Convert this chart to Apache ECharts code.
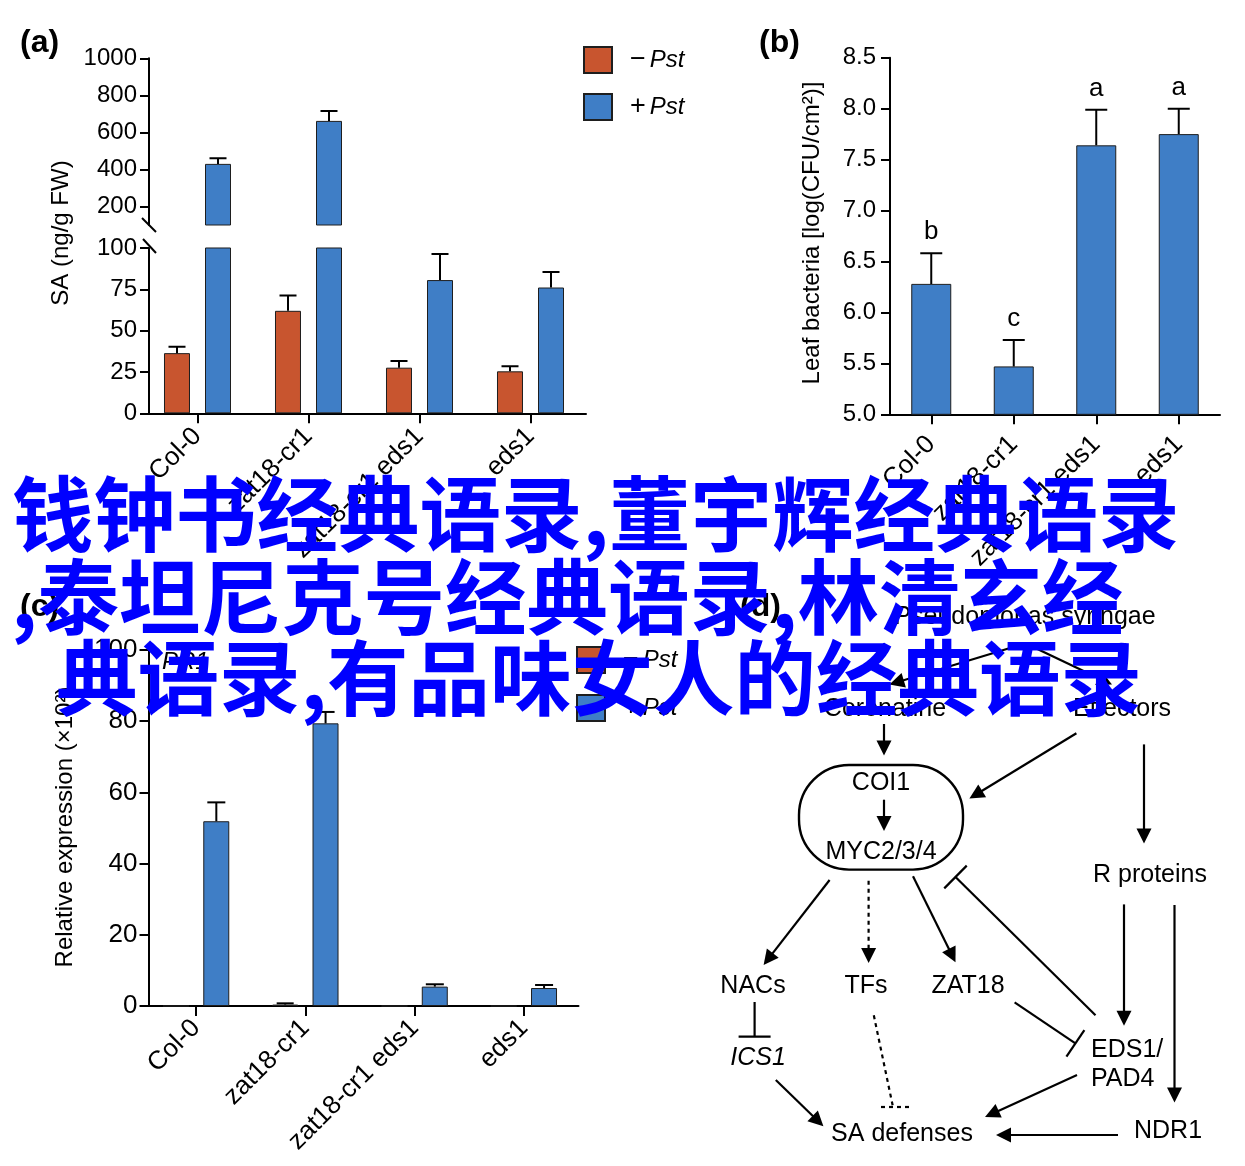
<!DOCTYPE html>
<html><head><meta charset="utf-8">
<script src="https://cdn.jsdelivr.net/npm/echarts@6/dist/echarts.min.js"></script>
<style>html,body{margin:0;padding:0;background:#fff}#c{width:1245px;height:1166px}</style>
</head><body><div id="c"></div>
<script>
const FONT = '"Liberation Sans", Arial, Helvetica, sans-serif';
const CJK = '"Noto Sans CJK SC", sans-serif';
const RED = '#C8552F', BLUE = '#3F7EC6', EDGE = '#1e1e1e';

// ---------- data ----------
const categories = ['Col-0', 'zat18-cr1', 'zat18-cr1 eds1', 'eds1'];
const saMinus = [36.4, 62.0, 27.6, 25.4];
const saMinusErr = [3.8, 9.3, 4.1, 3.1];
const saPlus = [430, 662, 80.6, 76.1];
const saPlusErr = [31, 54, 15.8, 9.4];
const saUpperTicks = [200, 400, 600, 800, 1000];
const bacteria = [6.28, 5.47, 7.64, 7.75];
const bacteriaErr = [0.30, 0.26, 0.35, 0.25];
const bacteriaLetters = ['b', 'c', 'a', 'a'];
const pr1Minus = [0, 0.4, 0, 0];
const pr1MinusErr = [0, 0.35, 0, 0];
const pr1Plus = [51.9, 79.4, 5.45, 5.05];
const pr1PlusErr = [5.3, 3.2, 0.65, 0.85];
const legendNames = ['\u2212Pst', '+Pst'];

// panel (d) diagram, in diagram units
const dNodeNames = ['Pseudomonas syringae', 'Coronatine', 'Effectors', 'COI1', 'MYC2/3/4', 'R proteins',
  'NACs', 'TFs', 'ZAT18', 'ICS1', 'EDS1/', 'PAD4', 'SA defenses', 'NDR1'];
const dNodeXY = [[325, 37], [185, 129], [422, 129], [181, 203], [181, 272], [450, 295],
  [53, 406], [166, 406], [268, 406], [58, 478], [391, 470], [391, 499], [202, 554], [468, 551]];
// x1, y1, x2, y2, kind (0 = activation arrow, 1 = inhibition bar), dashed
const dEdges = [
  [315, 66.5, 189.4, 104.6, 0, 0],
  [330, 65.4, 412, 104.6, 0, 0],
  [184, 144, 184, 175.6, 0, 0],
  [184, 219.7, 184, 251, 0, 0],
  [376.4, 153.2, 269.4, 218.6, 0, 0],
  [444, 164.4, 444, 263.5, 0, 0],
  [129.6, 300, 63.6, 385, 0, 0],
  [168.6, 300.8, 168.6, 383, 0, 1],
  [213, 296.3, 255.5, 382.3, 0, 0],
  [395.5, 435.3, 255.5, 297, 1, 0],
  [54.6, 422, 54.6, 456.6, 1, 0],
  [314.6, 422.3, 375.4, 463.4, 1, 0],
  [424, 324.4, 424, 445.8, 0, 0],
  [474.5, 325, 474.5, 522.4, 0, 0],
  [173.8, 435.3, 193, 527, 1, 1],
  [75.8, 500, 123.4, 546.3, 0, 0],
  [377, 495, 285, 537, 0, 0],
  [418, 555, 296, 555, 0, 0]
];
const dComplex = [[99, 185, 263, 289.6]];

const overlayLines = ['钱钟书经典语录,董宇辉经典语录', ',泰坦尼克号经典语录,林清玄经', '典语录,有品味女人的经典语录'];

// ---------- helpers ----------
const chart = echarts.init(document.getElementById('c'), null, {renderer: 'canvas'});

const lineStyleAxis = {color: '#000', width: 2};
function yAx(grid, extra) {
  return Object.assign({
    type: 'value', gridIndex: grid,
    axisLine: {show: true, onZero: false, lineStyle: lineStyleAxis},
    axisTick: {show: true, length: 9, lineStyle: lineStyleAxis},
    splitLine: {show: false},
    axisLabel: {color: '#000', fontFamily: FONT, fontSize: 24, margin: 12, formatter: v => String(v)}
  }, extra);
}
function xAx(grid, margin, extra) {
  return Object.assign({
    type: 'category', gridIndex: grid, data: categories, boundaryGap: true,
    axisLine: {show: true, onZero: false, lineStyle: lineStyleAxis},
    axisTick: {show: true, alignWithLabel: true, length: 10, lineStyle: lineStyleAxis},
    splitLine: {show: false},
    axisLabel: {interval: 0, rotate: 45, margin: margin, color: '#000', fontFamily: FONT, fontSize: 26}
  }, extra);
}
function bar(name, xi, yi, data, color, bw, gap) {
  return {
    type: 'bar', name, xAxisIndex: xi, yAxisIndex: yi, data, barWidth: bw, barGap: gap,
    clip: true, silent: true, z: 2,
    itemStyle: {color, borderColor: EDGE, borderWidth: 1}
  };
}
// lo / hi: value range of the axis the error bars belong to (bars outside are skipped)
function errSeries(xi, yi, vals, errs, offset, cap, letters, lo, hi) {
  lo = lo === undefined ? -Infinity : lo;
  hi = hi === undefined ? Infinity : hi;
  return {
    type: 'custom', xAxisIndex: xi, yAxisIndex: yi, clip: true, z: 4, silent: true,
    data: vals.map((v, i) => [i, v, v + errs[i], errs[i]]),
    renderItem(params, api) {
      const v = api.value(1), top = api.value(2);
      if (!(api.value(3) > 0) || top <= lo || v >= hi) return;
      const i = api.value(0);
      const p0 = api.coord([i, Math.max(v, lo)]);
      const p1 = api.coord([i, top]);
      const x = p0[0] + offset;
      const ls = {stroke: '#000', lineWidth: 2};
      const ch = [
        {type: 'line', shape: {x1: x, y1: p0[1], x2: x, y2: p1[1]}, style: ls},
        {type: 'line', shape: {x1: x - cap / 2, y1: p1[1], x2: x + cap / 2, y2: p1[1]}, style: ls}
      ];
      if (letters) ch.push({type: 'text', x: x, y: p1[1] - 21,
        style: {text: letters[i], fontFamily: FONT, fontSize: 26, fill: '#000', align: 'center', verticalAlign: 'middle'}});
      return {type: 'group', children: ch};
    }
  };
}
function txt(text, x, y, o) {
  o = o || {};
  return {
    type: 'text', x, y, rotation: o.rotation || 0, z: o.z || 50, silent: true,
    style: {text, fill: o.fill || '#000', fontFamily: o.fontFamily || FONT, fontSize: o.fontSize || 24,
      fontWeight: o.fontWeight || 'normal', fontStyle: o.fontStyle || 'normal',
      align: o.align || 'center', verticalAlign: 'middle'}
  };
}
function seg(x1, y1, x2, y2) {
  return {type: 'line', z: 50, silent: true, shape: {x1, y1, x2, y2}, style: {stroke: '#000', lineWidth: 2}};
}

const legendCommon = {
  data: legendNames, orient: 'vertical', itemWidth: 28, itemHeight: 26, icon: 'rect', selectedMode: false,
  padding: 0,
  formatter: n => '{s|' + n.charAt(0) + '}{i|' + n.slice(1) + '}',
  textStyle: {
    color: '#000', fontFamily: FONT, fontSize: 24, lineHeight: 26,
    rich: {
      s: {fontFamily: FONT, fontSize: 27, lineHeight: 26, color: '#000', padding: [0, 4, 0, 13]},
      i: {fontFamily: FONT, fontSize: 24, lineHeight: 26, fontStyle: 'italic', color: '#000'}
    }
  }
};

const upMin = 100;
const option = {
  animation: false,
  backgroundColor: '#fff',
  grid: [
    {left: 142, top: 58.3, width: 444, height: 166.7, outerBoundsMode: 'none'},
    {left: 142, top: 248, width: 444, height: 165.3, outerBoundsMode: 'none'},
    {left: 890, top: 57.7, width: 330, height: 356.6, outerBoundsMode: 'none'},
    {left: 141.5, top: 650, width: 437, height: 356, outerBoundsMode: 'none'},
    {left: 700, top: 580, width: 545, height: 586, outerBoundsMode: 'none'}
  ],
  xAxis: [
    xAx(0, 19, {show: false}),
    xAx(1, 19),
    xAx(2, 26),
    xAx(3, 18),
    {type: 'value', gridIndex: 4, min: 0, max: 545, show: false}
  ],
  yAxis: [
    yAx(0, {min: upMin, max: 1000, offset: -7,
      axisLabel: {color: '#000', fontFamily: FONT, fontSize: 24, margin: 12, customValues: saUpperTicks, formatter: v => String(v)},
      axisTick: {show: true, length: 9, lineStyle: lineStyleAxis, customValues: saUpperTicks}}),
    yAx(1, {min: 0, max: 100, interval: 25, offset: -7}),
    yAx(2, {min: 5, max: 8.5, interval: 0.5,
      axisLabel: {color: '#000', fontFamily: FONT, fontSize: 24, margin: 14, formatter: v => v.toFixed(1)}}),
    yAx(3, {min: 0, max: 100, interval: 20, offset: -7,
      axisLabel: {color: '#000', fontFamily: FONT, fontSize: 26, margin: 11, formatter: v => String(v)}}),
    {type: 'value', gridIndex: 4, min: 0, max: 586, inverse: true, show: false}
  ],
  legend: [
    Object.assign({left: 583, top: 46, itemGap: 19}, legendCommon),
    Object.assign({left: 576, top: 646, itemGap: 20}, legendCommon)
  ],
  series: [
    // (a) upper part of broken axis
    bar(legendNames[0], 0, 0, saMinus.map(v => v > upMin ? v : '-'), RED, 26, '57.7%'),
    bar(legendNames[1], 0, 0, saPlus.map(v => v > upMin ? v : '-'), BLUE, 26, '57.7%'),
    errSeries(0, 0, saPlus, saPlusErr, 20.5, 17, null, upMin, 1000),
    // (a) lower part
    bar(legendNames[0], 1, 1, saMinus, RED, 26, '57.7%'),
    bar(legendNames[1], 1, 1, saPlus, BLUE, 26, '57.7%'),
    errSeries(1, 1, saMinus, saMinusErr, -20.5, 17, null, 0, upMin),
    errSeries(1, 1, saPlus, saPlusErr, 20.5, 17, null, 0, upMin),
    // (b)
    bar('bacteria', 2, 2, bacteria, BLUE, 40, '0%'),
    errSeries(2, 2, bacteria, bacteriaErr, 0, 22, bacteriaLetters),
    // (c)
    bar(legendNames[0], 3, 3, pr1Minus, RED, 26, '55%'),
    bar(legendNames[1], 3, 3, pr1Plus, BLUE, 26, '55%'),
    errSeries(3, 3, pr1Minus, pr1MinusErr, -20.2, 17),
    errSeries(3, 3, pr1Plus, pr1PlusErr, 20.2, 18),
    // (d) complex outline
    {
      type: 'custom', xAxisIndex: 4, yAxisIndex: 4, silent: true, z: 3, data: dComplex,
      renderItem(params, api) {
        const a = api.coord([api.value(0), api.value(1)]);
        const b = api.coord([api.value(2), api.value(3)]);
        return {type: 'rect', shape: {x: a[0], y: a[1], width: b[0] - a[0], height: b[1] - a[1], r: 50},
          style: {fill: 'none', stroke: '#000', lineWidth: 2.4}};
      }
    },
    // (d) edges
    {
      type: 'custom', xAxisIndex: 4, yAxisIndex: 4, silent: true, z: 3, data: dEdges,
      renderItem(params, api) {
        const p1 = api.coord([api.value(0), api.value(1)]);
        const p2 = api.coord([api.value(2), api.value(3)]);
        const kind = api.value(4), dashed = api.value(5);
        const dx = p2[0] - p1[0], dy = p2[1] - p1[1], L = Math.hypot(dx, dy);
        const ux = dx / L, uy = dy / L;
        const st = {stroke: '#000', lineWidth: 2.2, lineDash: dashed ? [4, 4] : null};
        const ch = [];
        if (kind === 0) {
          const px = -uy, py = ux, hl = 15, hw = 7.5;
          const bx = p2[0] - ux * hl, by = p2[1] - uy * hl;
          ch.push({type: 'line', shape: {x1: p1[0], y1: p1[1], x2: bx + ux, y2: by + uy}, style: st});
          ch.push({type: 'polygon', shape: {points: [[p2[0], p2[1]], [bx + px * hw, by + py * hw], [bx - px * hw, by - py * hw]]},
            style: {fill: '#000'}});
        } else {
          // dashed inhibition bars are drawn level, solid ones perpendicular to the edge
          const px = dashed ? 1 : -uy, py = dashed ? 0 : ux, hw = 16;
          ch.push({type: 'line', shape: {x1: p1[0], y1: p1[1], x2: p2[0], y2: p2[1]}, style: st});
          ch.push({type: 'line', shape: {x1: p2[0] + px * hw, y1: p2[1] + py * hw, x2: p2[0] - px * hw, y2: p2[1] - py * hw}, style: st});
        }
        return {type: 'group', children: ch};
      }
    },
    // (d) node labels
    {
      type: 'custom', xAxisIndex: 4, yAxisIndex: 4, silent: true, z: 3,
      data: dNodeXY.map((p, i) => [p[0], p[1], i]),
      renderItem(params, api) {
        const p = api.coord([api.value(0), api.value(1)]);
        const name = dNodeNames[api.value(2)];
        const left = name === 'EDS1/' || name === 'PAD4';
        return {type: 'text', x: p[0], y: p[1],
          style: {text: name, fontFamily: FONT, fontSize: 25, fill: '#000',
            fontStyle: name === 'ICS1' ? 'italic' : 'normal',
            align: left ? 'left' : 'center', verticalAlign: 'middle'}};
      }
    }
  ],
  graphic: [
    txt('(a)', 20, 43, {fontSize: 32, fontWeight: 'bold', align: 'left'}),
    txt('(b)', 759, 43, {fontSize: 32, fontWeight: 'bold', align: 'left'}),
    txt('(c)', 20, 607, {fontSize: 32, fontWeight: 'bold', align: 'left'}),
    txt('(d)', 740, 607, {fontSize: 32, fontWeight: 'bold', align: 'left'}),
    txt('SA (ng/g FW)', 61, 233, {rotation: Math.PI / 2}),
    txt('Leaf bacteria [log(CFU/cm\u00B2)]', 812, 233, {rotation: Math.PI / 2}),
    txt('Relative expression (\u00D710\u00B2)', 65, 827, {rotation: Math.PI / 2}),
    txt('PR1', 162, 662, {fontStyle: 'italic', align: 'left'}),
    seg(142, 218, 156, 232),
    seg(143, 239, 156, 253),
    txt(overlayLines[0], 12, 514, {fontFamily: CJK, fontSize: 81.5, fontWeight: 'bold', fill: '#0000FF', align: 'left', z: 100}),
    txt(overlayLines[1], 11, 597, {fontFamily: CJK, fontSize: 81.5, fontWeight: 'bold', fill: '#0000FF', align: 'left', z: 100}),
    txt(overlayLines[2], 56, 678, {fontFamily: CJK, fontSize: 81.5, fontWeight: 'bold', fill: '#0000FF', align: 'left', z: 100})
  ]
};
chart.setOption(option);
</script>
</body></html>
